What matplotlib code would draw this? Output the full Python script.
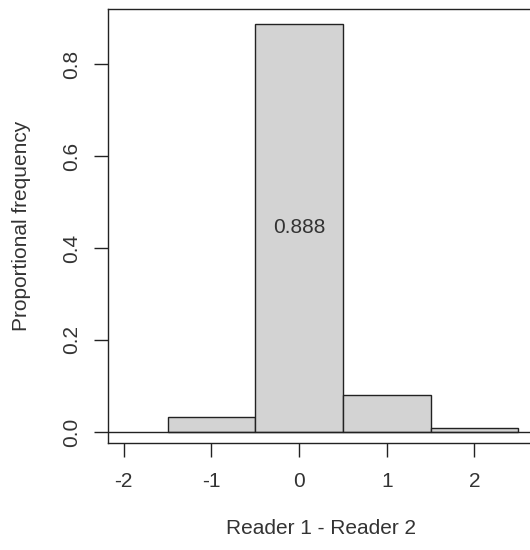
import matplotlib
matplotlib.use('Agg')
import matplotlib.pyplot as plt

# differences between the two readers and their share
diffs = [-1, 0, 1, 2]
props = [0.032, 0.888, 0.080, 0.008]
xticks = [-2, -1, 0, 1, 2]
yticks = [0.0, 0.2, 0.4, 0.6, 0.8]

plt.rcParams['font.family'] = ['Liberation Sans', 'DejaVu Sans']
plt.rcParams['font.size'] = 15

fig = plt.figure(figsize=(5.3, 5.5), dpi=100)
ax = fig.add_axes([108 / 530, 107 / 550, 426 / 530, 434 / 550])

ax.bar(diffs, props, width=1.0, color='#d3d3d3', edgecolor='#222222',
       linewidth=1.0, zorder=2)
ax.axhline(0, color='#222222', linewidth=1.0, zorder=3)

# label the tallest bar in its middle
top = props.index(max(props))
ax.text(diffs[top], props[top] / 2, '%.3f' % props[top], ha='center',
        va='center', color='#333333')

ax.set_xlim(-2.18, 2.68)
ax.set_ylim(-0.024, 0.9196)
ax.set_xticks(xticks)
ax.set_xticklabels([str(t) for t in xticks])
ax.set_yticks(yticks)
ax.set_yticklabels(['%.1f' % t for t in yticks])
ax.tick_params(direction='out', length=10, width=1.0, colors='#222222',
               labelcolor='#333333')
ax.tick_params(axis='x', pad=11)
ax.tick_params(axis='y', pad=9, labelrotation=90)
for lab in ax.get_yticklabels():
    lab.set_va('center')

for side in ['left', 'bottom', 'top']:
    ax.spines[side].set_linewidth(1.0)
    ax.spines[side].set_color('#222222')
ax.spines['right'].set_visible(False)

ax.set_xlabel('Reader 1 - Reader 2', color='#333333')
ax.xaxis.set_label_coords(0.5, -0.196)
ax.xaxis.label.set_va('center')
ax.set_ylabel('Proportional frequency', color='#333333')
ax.yaxis.set_label_coords(-0.202, 0.5)
ax.yaxis.label.set_va('center')

fig.savefig('out.png', dpi=100)
